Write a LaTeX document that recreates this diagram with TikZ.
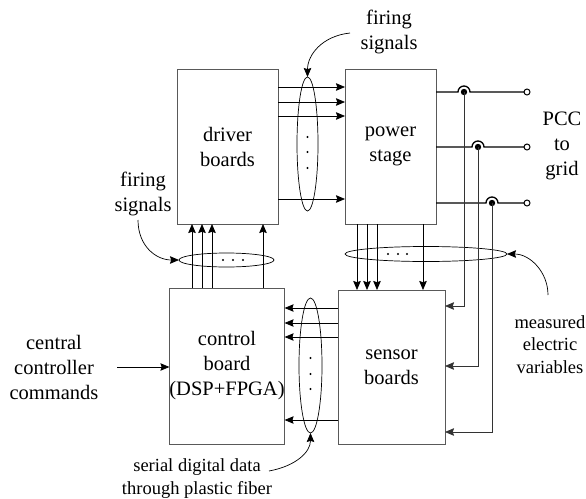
\documentclass[tikz,border=0pt]{standalone}
\usepackage{fontspec}
\setmainfont{Liberation Serif}
\usetikzlibrary{arrows.meta,shapes.geometric}
\begin{document}
\begin{tikzpicture}[x=1pt,y=1pt,
  box/.style={draw=black!65,line width=1pt,inner sep=0pt,outer sep=0pt,align=center,font=\fontsize{20.5}{25}\selectfont},
  lbl/.style={align=center,inner sep=0pt,font=\fontsize{20.5}{25}\selectfont},
  slbl/.style={align=center,inner sep=0pt,font=\fontsize{18.5}{22.5}\selectfont},
  arr/.style={-{Stealth[length=9pt,width=7.5pt,inset=1.2pt]},line width=0.7pt},
  meas/.style={-{Stealth[length=9pt,width=7.5pt,inset=1.2pt]},line width=0.7pt,draw=black!80},
  grp/.style={draw,ellipse,line width=0.7pt,inner sep=0pt,outer sep=0pt},
  wire/.style={line width=1.3pt},
]
\useasboundingbox (0,0) rectangle (586,-498);

% boxes
\node[box,minimum width=101,minimum height=155] (driver) at (227.5,-146.5) {driver\\boards};
\node[box,minimum width=91,minimum height=155] (power) at (390.5,-146.5) {power\\stage};
\node[box,minimum width=102,minimum height=156] (control) at (227,-366) {control\\board\\(DSP+FPGA)};
\node[box,minimum width=107,minimum height=154] (sensor) at (391.5,-367) {sensor\\boards};

% group ellipses
\node[grp,minimum width=21,minimum height=134] (e1) at (307.5,-144) {};
\node[grp,minimum width=95,minimum height=14] (e2) at (226.5,-260) {};
\node[grp,minimum width=162,minimum height=15] (e3) at (426,-254) {};
\node[grp,minimum width=23,minimum height=135] (e4) at (310.5,-365.5) {};

% dots in ellipses
\foreach \yy in {137,152,168} \fill (307.5,-\yy) circle (1.1);
\foreach \yy in {358,374,389} \fill (310.5,-\yy) circle (1.1);
\foreach \xx in {223,233,243} \fill (\xx,-260) circle (1.1);
\foreach \xx in {388,398,407} \fill (\xx,-254) circle (1.1);

% driver -> power
\foreach \yy in {87,102,116,199}
  \draw[arr] (driver.east |- 0,-\yy) -- (power.west |- 0,-\yy);
% control -> driver
\foreach \xx in {192,202,212,263}
  \draw[arr] (control.north -| \xx,0) -- (driver.south -| \xx,0);
% power -> sensor
\foreach \xx in {357,367,377,423}
  \draw[arr] (power.south -| \xx,0) -- (sensor.north -| \xx,0);
% sensor -> control
\foreach \yy in {308,323,337,420}
  \draw[arr] (sensor.west |- 0,-\yy) -- (control.east |- 0,-\yy);

% grid wires with measurement taps
\coordinate (t1) at (527,-92);
\coordinate (t2) at (527,-147);
\coordinate (t3) at (527,-203);
\coordinate (m1) at (464,-92);
\coordinate (m2) at (478,-147);
\coordinate (m3) at (492,-203);
\foreach \m/\t in {m1/t1,m2/t2,m3/t3}{
  \draw[wire] (power.east |- \m) -- ([xshift=-6]\m) arc[start angle=180,end angle=0,radius=6] -- (\t);
  \fill (\m) circle (3.2);
  \draw[line width=1pt,fill=white] (\t) circle (3);
}
\draw[meas] (m1) |- (sensor.east |- 0,-306);
\draw[meas] (m2) |- (sensor.east |- 0,-366);
\draw[meas] (m3) |- (sensor.east |- 0,-432);

% labels
\node[lbl] (fs1) at (389,-31.5) {firing\\signals};
\node[lbl] (fs2) at (143,-193.5) {firing\\signals};
\node[lbl] (pcc) at (562,-146) {PCC\\to\\grid};
\node[lbl] (cc) at (54,-367) {central\\controller\\commands};
\node[slbl] (mev) at (550,-344.5) {measured\\electric\\variables};
\node[slbl] (sdd) at (197,-478.5) {serial digital data\\through plastic fiber};

% label pointers
\coordinate (p1) at (350,-33);
\coordinate (p2) at (138,-220);
\coordinate (p3) at (548,-295);
\coordinate (p4) at (269,-471);
\coordinate (cin) at (117,-367);
\draw[arr] (p1) .. controls (322,-36) and (307.5,-55) .. (e1.north);
\draw[arr] (p2) .. controls (138,-246) and (156,-260) .. (e2.west);
\draw[arr] (p3) .. controls (548,-272) and (530,-254) .. (e3.east);
\draw[arr] (p4) .. controls (296,-466) and (310.5,-452) .. (e4.south);
\draw[arr] (cin) -- (control.west |- cin);
\end{tikzpicture}
\end{document}
